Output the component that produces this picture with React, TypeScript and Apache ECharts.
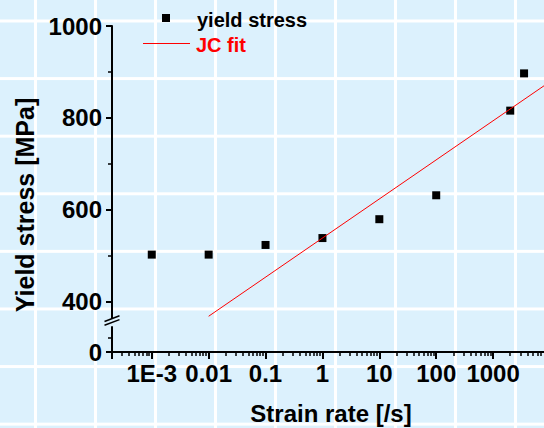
import React, { useEffect, useRef } from 'react';
import * as echarts from 'echarts';

// ---- data ----
const strainRates = [0.001, 0.01, 0.1, 1, 10, 100, 2000, 3500];
const yieldStress = [503, 503, 524, 539, 580, 632, 816, 897];
const jcFitRates = [0.01, 10000];
const jcFitStress = [369, 879];
const xTickValues = [0.001, 0.01, 0.1, 1, 10, 100, 1000];
const xTickLabels = ['1E-3', '0.01', '0.1', '1', '10', '100', '1000'];
const yTickValues = [0, 400, 600, 800, 1000];
const yTickLabels = ['0', '400', '600', '800', '1000'];
const yMinorTickValues = [30, 500, 700, 900];
const yBreak = { start: 55, end: 365, gap: 18.7 };

const FONT = '"Liberation Sans", Arial, Helvetica, sans-serif';
const BG = '#dcf1fd';

export default function App() {
  const ref = useRef<HTMLDivElement>(null);
  useEffect(() => {
    if (!ref.current) return;
    const chart = echarts.init(ref.current, undefined, { renderer: 'svg' });
    const labelStyle = { fontFamily: FONT, fontWeight: 'bold' as const, fontSize: 24, color: '#000' };
    const yBase = {
      type: 'value' as const,
      min: 0,
      max: 1000,
      position: 'left' as const,
      offset: 0,
      breaks: [{ ...yBreak }],
      breakArea: { show: false },
      splitLine: { show: false },
    };
    chart.setOption({
      animation: false,
      backgroundColor: 'transparent',
      grid: { left: 112, right: -6, top: 26, bottom: 76, containLabel: false, outerBoundsMode: 'none' },
      xAxis: {
        type: 'log',
        logBase: 10,
        min: 0.0002,
        max: 10000,
        splitNumber: 8,
        axisLine: { show: true, onZero: false, lineStyle: { color: '#000', width: 2 } },
        axisTick: { show: true, length: 7, lineStyle: { color: '#000', width: 2 } },
        minorTick: { show: true, splitNumber: 9, length: 4, lineStyle: { color: '#000', width: 1.5 } },
        splitLine: { show: false },
        minorSplitLine: { show: false },
        axisLabel: {
          ...labelStyle,
          margin: 9,
          showMinLabel: false,
          showMaxLabel: false,
          hideOverlap: false,
          formatter: (v: number) => {
            const i = xTickValues.findIndex((t) => Math.abs(Math.log10(t) - Math.log10(v)) < 1e-6);
            return i >= 0 ? xTickLabels[i] : '';
          },
        },
      },
      yAxis: [
        {
          ...yBase,
          axisLine: { show: true, onZero: false, lineStyle: { color: '#000', width: 2 } },
          axisTick: { show: true, length: 6, customValues: yTickValues, lineStyle: { color: '#000', width: 2 } },
          minorTick: { show: false },
          axisLabel: {
            ...labelStyle,
            margin: 10,
            hideOverlap: false,
            customValues: yTickValues,
            formatter: (v: number) => {
              const i = yTickValues.indexOf(v);
              return i >= 0 ? yTickLabels[i] : '';
            },
          },
        },
        {
          ...yBase,
          axisLine: { show: false },
          axisTick: { show: true, length: 4, customValues: yMinorTickValues, lineStyle: { color: '#000', width: 1.5 } },
          minorTick: { show: false },
          axisLabel: { show: false },
        },
      ],
      series: [
        {
          name: 'yield stress',
          type: 'scatter',
          symbol: 'rect',
          symbolSize: 8,
          itemStyle: { color: '#000', opacity: 1 },
          data: strainRates.map((x, i) => [x, yieldStress[i]]),
          z: 3,
        },
        {
          name: 'JC fit',
          type: 'line',
          showSymbol: false,
          lineStyle: { color: '#ff0000', width: 1 },
          data: jcFitRates.map((x, i) => [x, jcFitStress[i]]),
          z: 4,
        },
      ],
      graphic: [
        // legend
        { type: 'rect', shape: { x: 162, y: 14, width: 8, height: 8 }, style: { fill: '#000' }, z: 10 },
        {
          type: 'text', x: 197, y: 20,
          style: { text: 'yield stress', fontFamily: FONT, fontWeight: 'bold', fontSize: 20, fill: '#000', textAlign: 'left', textVerticalAlign: 'middle' },
          z: 10,
        },
        { type: 'line', shape: { x1: 143, y1: 43.5, x2: 190, y2: 43.5 }, style: { stroke: '#ff0000', lineWidth: 1 }, z: 10 },
        {
          type: 'text', x: 196, y: 45,
          style: { text: 'JC fit', fontFamily: FONT, fontWeight: 'bold', fontSize: 20, fill: '#ff0000', textAlign: 'left', textVerticalAlign: 'middle' },
          z: 10,
        },
        // axis titles
        {
          type: 'text', x: 25, y: 205, rotation: Math.PI / 2,
          style: { text: 'Yield stress [MPa]', fontFamily: FONT, fontWeight: 'bold', fontSize: 25, fill: '#000', textAlign: 'center', textVerticalAlign: 'middle' },
          z: 10,
        },
        {
          type: 'text', x: 331, y: 413,
          style: { text: 'Strain rate [/s]', fontFamily: FONT, fontWeight: 'bold', fontSize: 24, fill: '#000', textAlign: 'center', textVerticalAlign: 'middle' },
          z: 10,
        },
        // axis break mark
        { type: 'polygon', shape: { points: [[104, 321.5], [120, 315.5], [120, 319.5], [104, 325.5]] }, style: { fill: BG }, z: 10 },
        { type: 'line', shape: { x1: 104.5, y1: 321.5, x2: 119.5, y2: 315.8 }, style: { stroke: '#000', lineWidth: 1.5 }, z: 11 },
        { type: 'line', shape: { x1: 104.5, y1: 325.3, x2: 119.5, y2: 319.6 }, style: { stroke: '#000', lineWidth: 1.5 }, z: 11 },
      ],
    });
    return () => chart.dispose();
  }, []);

  return (
    <div
      style={{
        position: 'fixed',
        left: 0,
        top: 0,
        width: 544,
        height: 428,
        backgroundColor: BG,
        backgroundImage:
          'linear-gradient(to right, #ffffff 3px, transparent 3px), linear-gradient(to bottom, #ffffff 3px, transparent 3px)',
        backgroundSize: '60px 57.6px',
        backgroundPosition: '34px 19.5px',
      }}
    >
      <div ref={ref} style={{ width: 544, height: 428 }} />
    </div>
  );
}
